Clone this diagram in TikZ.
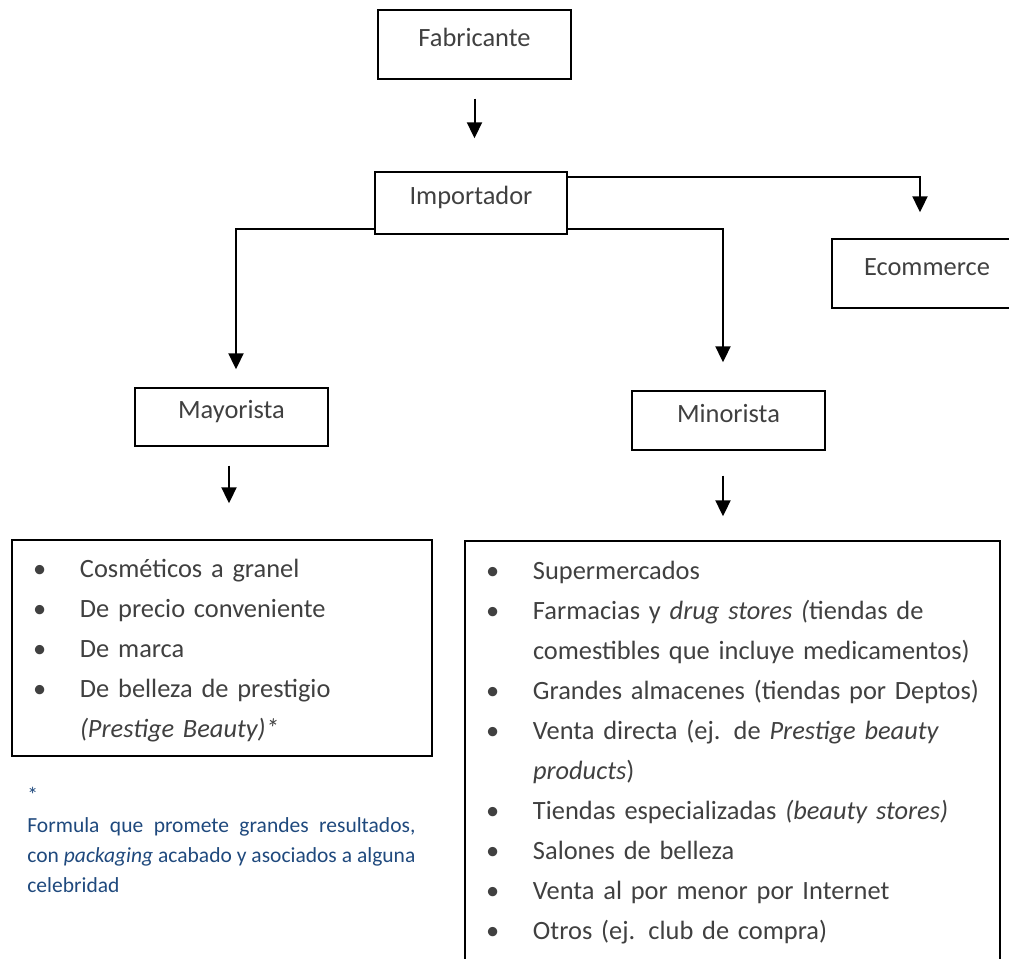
\documentclass[tikz,border=0pt]{standalone}
\usepackage{fontspec}
\setmainfont{Carlito}
\usepackage{xcolor}
\usetikzlibrary{arrows.meta}
\definecolor{txtgray}{HTML}{404040}
\definecolor{notablue}{HTML}{1F497D}

\begin{document}
\begin{tikzpicture}[x=0.5pt,y=-0.5pt,
  box/.style={draw,line width=0.7pt,inner sep=0pt,text=txtgray,
    font=\fontsize{13.2}{16}\selectfont,text height=7pt,text depth=5.4pt},
  lst/.style={draw,line width=0.7pt,inner ysep=0pt,inner xsep=10.5pt,align=left,
    text=txtgray,font=\fontsize{13.2}{20}\selectfont},
  arr/.style={line width=1pt,-{Triangle[length=8pt,width=7.5pt]}}]
\useasboundingbox (0,0) rectangle (1009,959);

\node[box,minimum width=96.5pt,minimum height=34.5pt] (fab) at (474.5,44.5) {Fabricante};
\node[box,minimum width=96pt,minimum height=31pt] (imp) at (471,203) {Importador};
\node[box,minimum width=95pt,minimum height=34.5pt] (ecom) at (927,273.5) {Ecommerce};
\node[box,minimum width=96.5pt,minimum height=29pt] (may) at (231.5,417) {Mayorista};
\node[box,minimum width=96.5pt,minimum height=29.5pt] (mino) at (728.5,420.5) {Minorista};

\node[lst,minimum width=210pt,minimum height=108pt,text width=189pt] (mayl) at (222,648) {%
\begin{tabular}{@{}p{23.5pt}@{}l@{}}
\rule{0pt}{15.5pt}\textbullet & Cosméticos a granel\\
\textbullet & De precio conveniente\\
\textbullet & De marca\\
\textbullet & De belleza de prestigio\\
 & \textit{(Prestige Beauty)*}
\end{tabular}};
\node[lst,minimum width=267.5pt,minimum height=210.5pt,text width=246.5pt] (minl) at (732.5,751.5) {%
\begin{tabular}{@{}p{23.5pt}@{}l@{}}
\textbullet & Supermercados\\
\textbullet & Farmacias y \textit{drug stores (}tiendas de\\
 & comestibles que incluye medicamentos)\\
\textbullet & Grandes almacenes (tiendas por Deptos)\\
\textbullet & Venta directa (ej. de \textit{Prestige beauty}\\
 & \textit{products})\\
\textbullet & Tiendas especializadas \textit{(beauty stores)}\\
\textbullet & Salones de belleza\\
\textbullet & Venta al por menor por Internet\\
\textbullet & Otros (ej. club de compra)
\end{tabular}};

\node[anchor=north west,inner sep=0pt,text width=194pt,align=justify,text=notablue,
  font=\fontsize{10.75}{15}\selectfont] (nota) at (27,781) {\strut*\\
Formula que promete grandes resultados,\linebreak con \textit{packaging} acabado y asociados a alguna\linebreak celebridad};

\coordinate (fabarr) at (fab.south);
\coordinate (mayarr) at ([xshift=-1.25pt]may.south);
\coordinate (minarr) at ([xshift=-2.75pt]mino.south);

\draw[arr,shorten <=9.5pt,shorten >=16.5pt] (fabarr) -- (fabarr |- imp.north);
\draw[arr,shorten >=13pt] ([yshift=-3pt]imp.north east) -| ([xshift=-3.5pt]ecom.north);
\draw[arr,shorten >=9pt] ([yshift=3pt]imp.south west) -| ([xshift=2.25pt]may.north);
\draw[arr,shorten >=14pt] ([yshift=3pt]imp.south east) -| ([xshift=-2.75pt]mino.north);
\draw[arr,shorten <=9.5pt,shorten >=18pt] (mayarr) -- (mayarr |- mayl.north);
\draw[arr,shorten <=12.5pt,shorten >=12pt] (minarr) -- (minarr |- minl.north);
\end{tikzpicture}
\end{document}
